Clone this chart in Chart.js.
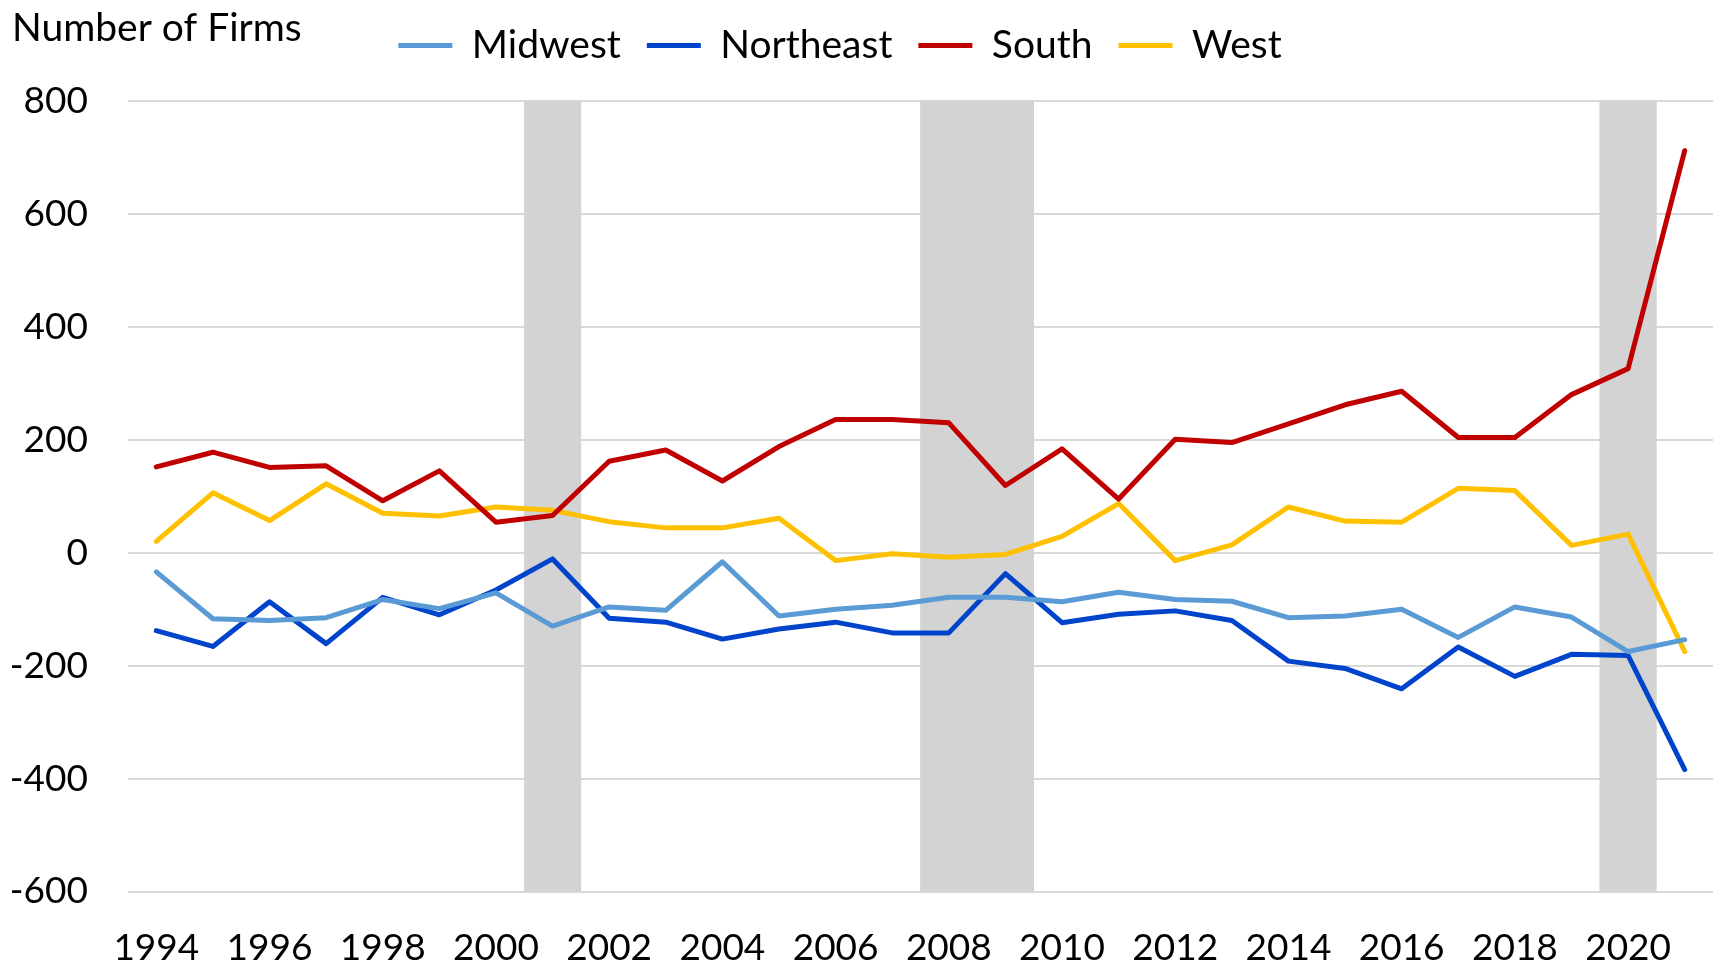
<!DOCTYPE html>
<html>
<head>
<meta charset="utf-8">
<script src="https://cdn.jsdelivr.net/npm/chart.js@4/dist/chart.umd.min.js"></script>
<style>
  html, body { margin: 0; padding: 0; background: #fff; }
</style>
</head>
<body>
<canvas id="firms" width="1713" height="963"></canvas>
<script>
const years = ['1994','1995','1996','1997','1998','1999','2000','2001','2002','2003',
  '2004','2005','2006','2007','2008','2009','2010','2011','2012','2013',
  '2014','2015','2016','2017','2018','2019','2020','2021'];

const midwest = [-34, -117, -120, -115, -83, -99, -71, -130, -96, -102,
  -16, -112, -100, -93, -79, -79, -87, -70, -83, -86,
  -115, -112, -100, -150, -96, -114, -175, -154];

const northeast = [-138, -166, -87, -161, -79, -110, -66, -11, -116, -123,
  -153, -135, -123, -142, -142, -37, -124, -109, -103, -120,
  -192, -205, -241, -167, -219, -180, -182, -384];

const south = [152, 178, 151, 154, 92, 145, 54, 66, 162, 182,
  127, 188, 236, 236, 230, 119, 184, 95, 201, 195,
  228, 262, 286, 204, 204, 280, 326, 712];

const west = [20, 106, 57, 122, 70, 65, 81, 75, 55, 44,
  44, 61, -14, -2, -8, -3, 29, 87, -14, 14,
  81, 56, 54, 114, 110, 13, 33, -175];

// recession shading
const recessionYears = ['2001', '2008', '2009', '2020'];

const yMin = -600;
const yMax = 800;
const yStep = 200;

// title in the top left corner
const cornerTitle = {
  id: 'cornerTitle',
  afterDraw(chart) {
    const ctx = chart.ctx;
    ctx.save();
    ctx.font = '39px Lato';
    ctx.fillStyle = '#000';
    ctx.textAlign = 'left';
    ctx.textBaseline = 'alphabetic';
    ctx.fillText('Number of Firms', 12, 41);
    ctx.restore();
  }
};

function line(label, data, color) {
  return {
    type: 'line',
    label: label,
    data: data,
    borderColor: color,
    backgroundColor: color,
    borderWidth: 5,
    pointRadius: 0,
    pointHoverRadius: 0,
    tension: 0,
    borderCapStyle: 'round',
    borderJoinStyle: 'round',
    order: 0
  };
}

// plot runs a little past the right edge of the canvas
const overhang = -15;

new Chart(document.getElementById('firms'), {
  data: {
    labels: years,
    datasets: [
      line('Midwest', midwest, '#5B9BD5'),
      line('Northeast', northeast, '#0044CC'),
      line('South', south, '#C00000'),
      line('West', west, '#FFC000'),
      {
        type: 'bar',
        label: 'Recession',
        data: years.map(y => recessionYears.includes(y) ? [yMin, yMax] : null),
        backgroundColor: '#D3D3D3',
        borderWidth: 0,
        barPercentage: 1,
        categoryPercentage: 1,
        order: 10
      }
    ]
  },
  options: {
    responsive: false,
    animation: false,
    font: { family: 'Lato' },
    layout: {
      padding: { left: -48, right: overhang, top: 0, bottom: 0 }
    },
    plugins: {
      tooltip: { enabled: false },
      legend: {
        position: 'top',
        align: 'center',
        labels: {
          filter: item => item.text !== 'Recession',
          usePointStyle: true,
          pointStyle: 'line',
          pointStyleWidth: 54,
          color: '#000',
          padding: 26,
          font: { family: 'Lato', size: 39 }
        }
      }
    },
    scales: {
      x: {
        type: 'category',
        offset: true,
        grid: { display: false, drawTicks: false },
        border: { display: false },
        afterFit: s => { s.height = 71.5; s.paddingRight = overhang; },
        ticks: {
          autoSkip: false,
          maxRotation: 0,
          padding: 34,
          color: '#000',
          font: { family: 'Lato', size: 37 },
          callback: function (val, i) { return i % 2 === 0 ? this.getLabelForValue(val) : ''; }
        }
      },
      // empty spacer between legend and plot
      gap: {
        type: 'category',
        position: 'top',
        grid: { display: false, drawTicks: false },
        border: { display: false },
        ticks: { display: false },
        afterFit: s => { s.height = 26; s.paddingRight = overhang; }
      },
      y: {
        min: yMin,
        max: yMax,
        grid: { color: '#D9D9D9', lineWidth: 2, drawTicks: false },
        border: { display: false },
        afterFit: s => { s.width = 176; s.paddingRight = overhang; },
        ticks: {
          stepSize: yStep,
          padding: 40,
          color: '#000',
          font: { family: 'Lato', size: 37 }
        }
      }
    }
  },
  plugins: [cornerTitle]
});
</script>
</body>
</html>
